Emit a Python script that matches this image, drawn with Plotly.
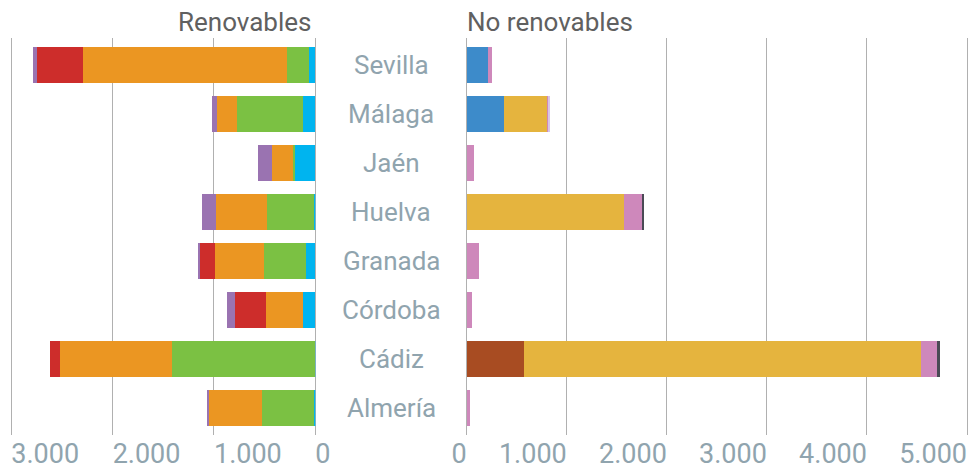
import plotly.graph_objects as go

provincias = ["Sevilla", "Málaga", "Jaén", "Huelva", "Granada", "Córdoba", "Cádiz", "Almería"]

# Renovables (MW)
hidraulica = [62, 122, 201, 16, 92, 122, 3, 13]
eolica = [217, 651, 20, 461, 415, 0, 1415, 516]
fotovoltaica = [2014, 197, 207, 503, 484, 365, 1105, 520]
termosolar = [454, 0, 0, 0, 148, 306, 99, 0]
biomasa = [39, 49, 138, 138, 20, 79, 0, 10]

# No renovables (MW)
bombeo = [210, 377, 0, 0, 0, 0, 0, 0]
carbon = [0, 0, 0, 0, 0, 0, 573, 0]
ciclo_combinado = [0, 426, 0, 1573, 0, 0, 3970, 0]
cogeneracion = [40, 15, 70, 177, 120, 50, 160, 33]
residuos = [0, 0, 0, 20, 0, 0, 30, 0]
otros = [0, 12, 0, 0, 0, 0, 0, 0]

ticks_ren = [0, 1000, 2000, 3000]
ticks_noren = [0, 1000, 2000, 3000, 4000, 5000]

W, H = 978, 470
FONT = "Roboto"
TICK_COLOR = "#90a4ae"
GRID = "#b0b0b0"

fig = go.Figure()

ren = [
    ("Hidráulica", hidraulica, "#00b4ef"),
    ("Eólica", eolica, "#7bc143"),
    ("Solar fotovoltaica", fotovoltaica, "#eb9622"),
    ("Solar termoeléctrica", termosolar, "#cd2d2b"),
    ("Biomasa", biomasa, "#9a73b1"),
]
noren = [
    ("Bombeo", bombeo, "#3d8bca"),
    ("Carbón", carbon, "#a84c22"),
    ("Ciclo combinado", ciclo_combinado, "#e5b43e"),
    ("Cogeneración", cogeneracion, "#ce88bb"),
    ("Residuos", residuos, "#4a4a55"),
    ("Otros", otros, "#d6c6e6"),
]

for name, vals, col in ren:
    fig.add_trace(go.Bar(y=provincias, x=vals, name=name, orientation="h",
                         marker=dict(color=col, line=dict(width=0)),
                         xaxis="x", yaxis="y"))
for name, vals, col in noren:
    fig.add_trace(go.Bar(y=provincias, x=vals, name=name, orientation="h",
                         marker=dict(color=col, line=dict(width=0)),
                         xaxis="x2", yaxis="y"))

axis_common = dict(showgrid=True, gridcolor=GRID, gridwidth=1, zeroline=True,
                   zerolinecolor=GRID, zerolinewidth=1, showline=False,
                   tickfont=dict(family=FONT, size=27, color=TICK_COLOR),
                   tickformat=",.0f", ticks="", fixedrange=True, automargin=False,
                   ticklabeloverflow="allow")

# left: 0 at 315.3 px, 3000 at 11.3 px; right: 0 at 466.7 px, 5000 at 967 px
fig.update_layout(
    width=W, height=H,
    margin=dict(l=0, r=0, t=38, b=35, autoexpand=False),
    paper_bgcolor="white", plot_bgcolor="white",
    barmode="stack", bargap=0.267,
    showlegend=False,
    separators=",.",
    font=dict(family=FONT),
    xaxis=dict(domain=[8 / W, 315.3 / W], range=[3000 + 3.3 / 0.10133, 0],
               tickvals=ticks_ren, ticklabelposition="outside right", **axis_common),
    xaxis2=dict(domain=[466.7 / W, 971 / W], range=[0, 5000 + 4 / 0.10006],
                tickvals=ticks_noren, ticklabelposition="outside left", **axis_common),
    yaxis=dict(range=[7.54, -0.54], showticklabels=False, showgrid=False,
               zeroline=False, categoryorder="array", categoryarray=provincias,
               automargin=False),
)

for i, p in enumerate(provincias):
    fig.add_annotation(x=391 / W, xref="paper", y=p, yref="y", text=p, showarrow=False,
                       font=dict(family=FONT, size=26, color=TICK_COLOR),
                       xanchor="center", yanchor="middle")

fig.add_annotation(x=313 / W, xref="paper", y=1 + 16 / 397, yref="paper", text="Renovables",
                   showarrow=False, xanchor="right", yanchor="middle",
                   font=dict(family=FONT, size=26, color="#606060"))
fig.add_annotation(x=465 / W, xref="paper", y=1 + 16 / 397, yref="paper", text="No renovables",
                   showarrow=False, xanchor="left", yanchor="middle",
                   font=dict(family=FONT, size=26, color="#606060"))

fig.write_html("out.html", config={"displayModeBar": False},
               post_script="document.body.style.margin='0';")
